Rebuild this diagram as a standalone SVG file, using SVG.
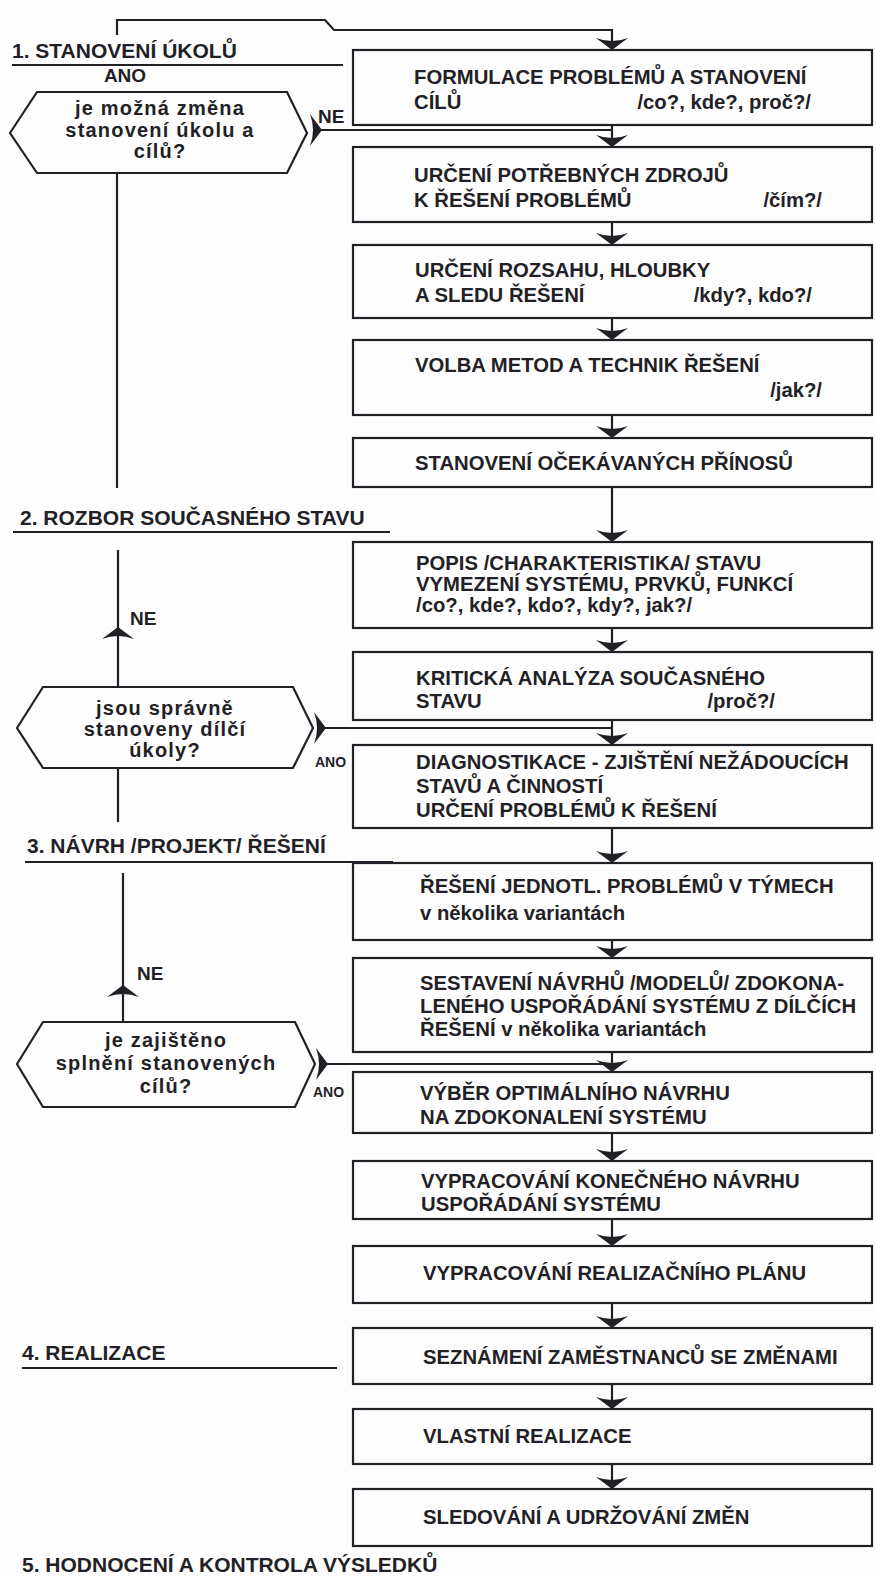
<svg xmlns="http://www.w3.org/2000/svg" xmlns:xlink="http://www.w3.org/1999/xlink" width="876" height="1577" viewBox="0 0 876 1577">
<style>
.bg{fill:#fdfdfd}
.box{fill:none;stroke:#231f26;stroke-width:2.2}
.hex{fill:none;stroke:#231f26;stroke-width:2.2}
.ln{fill:none;stroke:#231f26;stroke-width:2.2}
.t{font-family:"Liberation Sans",Arial,sans-serif;font-weight:bold;font-size:20.3px;fill:#231f26}
.h{font-family:"Liberation Sans",Arial,sans-serif;font-weight:bold;font-size:21px;fill:#231f26}
.q{font-family:"Liberation Sans",Arial,sans-serif;font-weight:bold;font-size:20px;fill:#231f26;letter-spacing:1.2px;text-anchor:middle}
.lb{font-family:"Liberation Sans",Arial,sans-serif;font-weight:bold;font-size:19px;fill:#231f26}
.ls{font-family:"Liberation Sans",Arial,sans-serif;font-weight:bold;font-size:14px;fill:#231f26}
.ah{fill:#231f26}
</style>
<defs>
<path id="ad" d="M0,0 L-16,-12 Q0,-6 16,-12 Z"/>
</defs>
<rect class="bg" x="0" y="0" width="876" height="1577"/>

<g id="headings">
<text class="h" x="12" y="58">1. STANOVENÍ ÚKOLŮ</text>
<line class="ln" x1="12" y1="65" x2="343" y2="65"/>
<text class="h" x="20" y="525">2. ROZBOR SOUČASNÉHO STAVU</text>
<line class="ln" x1="13" y1="532" x2="390" y2="532"/>
<text class="h" x="27" y="853">3. NÁVRH /PROJEKT/ ŘEŠENÍ</text>
<line class="ln" x1="25" y1="862" x2="393" y2="862"/>
<text class="h" x="22" y="1360">4. REALIZACE</text>
<line class="ln" x1="22" y1="1368" x2="337" y2="1368"/>
<text class="h" x="22" y="1572">5. HODNOCENÍ A KONTROLA VÝSLEDKŮ</text>
</g>

<g id="connectors">
<path class="ln" d="M117,35 V20 H325 L334,30 H612 V45"/>
<line class="ln" x1="612" y1="125" x2="612" y2="142"/>
<line class="ln" x1="612" y1="222" x2="612" y2="240"/>
<line class="ln" x1="612" y1="318" x2="612" y2="335"/>
<line class="ln" x1="612" y1="415" x2="612" y2="433"/>
<line class="ln" x1="612" y1="487" x2="612" y2="537"/>
<line class="ln" x1="612" y1="628" x2="612" y2="647"/>
<line class="ln" x1="612" y1="720" x2="612" y2="740"/>
<line class="ln" x1="612" y1="828" x2="612" y2="858"/>
<line class="ln" x1="612" y1="940" x2="612" y2="953"/>
<line class="ln" x1="612" y1="1052" x2="612" y2="1067"/>
<line class="ln" x1="612" y1="1133" x2="612" y2="1156"/>
<line class="ln" x1="612" y1="1219" x2="612" y2="1241"/>
<line class="ln" x1="612" y1="1303" x2="612" y2="1323"/>
<line class="ln" x1="612" y1="1384" x2="612" y2="1404"/>
<line class="ln" x1="612" y1="1464" x2="612" y2="1484"/>
<use href="#ad" class="ah" x="612" y="50"/>
<use href="#ad" class="ah" x="612" y="147"/>
<use href="#ad" class="ah" x="612" y="245"/>
<use href="#ad" class="ah" x="612" y="340"/>
<use href="#ad" class="ah" x="612" y="438"/>
<use href="#ad" class="ah" x="612" y="542"/>
<use href="#ad" class="ah" x="612" y="652"/>
<use href="#ad" class="ah" x="612" y="745"/>
<use href="#ad" class="ah" x="612" y="863"/>
<use href="#ad" class="ah" x="612" y="958"/>
<use href="#ad" class="ah" x="612" y="1072"/>
<use href="#ad" class="ah" x="612" y="1161"/>
<use href="#ad" class="ah" x="612" y="1246"/>
<use href="#ad" class="ah" x="612" y="1328"/>
<use href="#ad" class="ah" x="612" y="1409"/>
<use href="#ad" class="ah" x="612" y="1489"/>

<line class="ln" x1="117" y1="173" x2="117" y2="488"/>
<line class="ln" x1="318" y1="130" x2="612" y2="130"/>
<use href="#ad" class="ah" transform="translate(322,130) rotate(-90)"/>
<line class="ln" x1="118" y1="550" x2="118" y2="687"/>
<line class="ln" x1="118" y1="768" x2="118" y2="822"/>
<use href="#ad" class="ah" transform="translate(118,627) rotate(180)"/>
<line class="ln" x1="322" y1="728" x2="612" y2="728"/>
<use href="#ad" class="ah" transform="translate(326,728) rotate(-90)"/>
<line class="ln" x1="123" y1="873" x2="123" y2="1022"/>
<use href="#ad" class="ah" transform="translate(123,985) rotate(180)"/>
<line class="ln" x1="324" y1="1064" x2="612" y2="1064"/>
<use href="#ad" class="ah" transform="translate(328,1064) rotate(-90)"/>

<text class="lb" x="125" y="82" text-anchor="middle">ANO</text>
<text class="lb" x="318" y="123">NE</text>
<text class="lb" x="130" y="625">NE</text>
<text class="ls" x="315" y="767">ANO</text>
<text class="lb" x="137" y="980">NE</text>
<text class="ls" x="313" y="1097">ANO</text>
</g>

<g id="d1">
<polygon class="hex" points="10,133 37,92 287,92 307,133 287,173 37,173"/>
<text class="q" x="160" y="115">je možná změna</text>
<text class="q" x="160" y="137">stanovení úkolu a</text>
<text class="q" x="160" y="158">cílů?</text>
</g>
<g id="d2">
<polygon class="hex" points="17,728 43,687 293,687 313,728 293,768 43,768"/>
<text class="q" x="165" y="715">jsou správně</text>
<text class="q" x="165" y="736">stanoveny dílčí</text>
<text class="q" x="165" y="757">úkoly?</text>
</g>
<g id="d3">
<polygon class="hex" points="17,1064 43,1022 295,1022 315,1064 295,1107 43,1107"/>
<text class="q" x="166" y="1047">je zajištěno</text>
<text class="q" x="166" y="1070">splnění stanovených</text>
<text class="q" x="166" y="1093">cílů?</text>
</g>

<g id="b1">
<rect class="box" x="353" y="50" width="519" height="75"/>
<text class="t" x="414" y="84">FORMULACE PROBLÉMŮ A STANOVENÍ</text>
<text class="t" x="414" y="109">CÍLŮ</text>
<text class="t" x="811" y="109" text-anchor="end">/co?, kde?, proč?/</text>
</g>
<g id="b2">
<rect class="box" x="353" y="147" width="519" height="75"/>
<text class="t" x="414" y="182">URČENÍ POTŘEBNÝCH ZDROJŮ</text>
<text class="t" x="414" y="207">K ŘEŠENÍ PROBLÉMŮ</text>
<text class="t" x="822" y="207" text-anchor="end">/čím?/</text>
</g>
<g id="b3">
<rect class="box" x="353" y="245" width="519" height="73"/>
<text class="t" x="415" y="277">URČENÍ ROZSAHU, HLOUBKY</text>
<text class="t" x="415" y="302">A SLEDU ŘEŠENÍ</text>
<text class="t" x="812" y="302" text-anchor="end">/kdy?, kdo?/</text>
</g>
<g id="b4">
<rect class="box" x="353" y="340" width="519" height="75"/>
<text class="t" x="415" y="372">VOLBA METOD A TECHNIK ŘEŠENÍ</text>
<text class="t" x="822" y="397" text-anchor="end">/jak?/</text>
</g>
<g id="b5">
<rect class="box" x="353" y="438" width="519" height="49"/>
<text class="t" x="415" y="470">STANOVENÍ OČEKÁVANÝCH PŘÍNOSŮ</text>
</g>
<g id="b6">
<rect class="box" x="353" y="542" width="519" height="86"/>
<text class="t" x="416" y="570">POPIS /CHARAKTERISTIKA/ STAVU</text>
<text class="t" x="416" y="591">VYMEZENÍ SYSTÉMU, PRVKŮ, FUNKCÍ</text>
<text class="t" x="416" y="612">/co?, kde?, kdo?, kdy?, jak?/</text>
</g>
<g id="b7">
<rect class="box" x="353" y="652" width="519" height="68"/>
<text class="t" x="416" y="685">KRITICKÁ ANALÝZA SOUČASNÉHO</text>
<text class="t" x="416" y="708">STAVU</text>
<text class="t" x="775" y="708" text-anchor="end">/proč?/</text>
</g>
<g id="b8">
<rect class="box" x="353" y="745" width="519" height="83"/>
<text class="t" x="416" y="769">DIAGNOSTIKACE - ZJIŠTĚNÍ NEŽÁDOUCÍCH</text>
<text class="t" x="416" y="793">STAVŮ A ČINNOSTÍ</text>
<text class="t" x="416" y="817">URČENÍ PROBLÉMŮ K ŘEŠENÍ</text>
</g>
<g id="b9">
<rect class="box" x="353" y="863" width="519" height="77"/>
<text class="t" x="420" y="893">ŘEŠENÍ JEDNOTL. PROBLÉMŮ V TÝMECH</text>
<text class="t" x="420" y="920">v několika variantách</text>
</g>
<g id="b10">
<rect class="box" x="353" y="958" width="519" height="94"/>
<text class="t" x="420" y="990">SESTAVENÍ NÁVRHŮ /MODELŮ/ ZDOKONA-</text>
<text class="t" x="420" y="1013">LENÉHO USPOŘÁDÁNÍ SYSTÉMU Z DÍLČÍCH</text>
<text class="t" x="420" y="1036">ŘEŠENÍ v několika variantách</text>
</g>
<g id="b11">
<rect class="box" x="353" y="1072" width="519" height="61"/>
<text class="t" x="420" y="1100">VÝBĚR OPTIMÁLNÍHO NÁVRHU</text>
<text class="t" x="420" y="1124">NA ZDOKONALENÍ SYSTÉMU</text>
</g>
<g id="b12">
<rect class="box" x="353" y="1161" width="519" height="58"/>
<text class="t" x="421" y="1188">VYPRACOVÁNÍ KONEČNÉHO NÁVRHU</text>
<text class="t" x="421" y="1211">USPOŘÁDÁNÍ SYSTÉMU</text>
</g>
<g id="b13">
<rect class="box" x="353" y="1246" width="519" height="57"/>
<text class="t" x="423" y="1280">VYPRACOVÁNÍ REALIZAČNÍHO PLÁNU</text>
</g>
<g id="b14">
<rect class="box" x="353" y="1328" width="519" height="56"/>
<text class="t" x="423" y="1364">SEZNÁMENÍ ZAMĚSTNANCŮ SE ZMĚNAMI</text>
</g>
<g id="b15">
<rect class="box" x="353" y="1409" width="519" height="55"/>
<text class="t" x="423" y="1443">VLASTNÍ REALIZACE</text>
</g>
<g id="b16">
<rect class="box" x="353" y="1489" width="519" height="57"/>
<text class="t" x="423" y="1524">SLEDOVÁNÍ A UDRŽOVÁNÍ ZMĚN</text>
</g>
</svg>
